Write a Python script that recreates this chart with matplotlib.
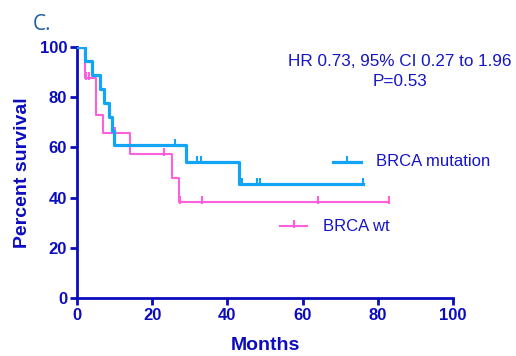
import matplotlib.pyplot as plt
from matplotlib.path import Path

# Kaplan-Meier steps
mut_t = [0, 2.1, 3.9, 6.1, 7.3, 8.5, 9.4, 9.9, 29.0, 43.2, 76.0]
mut_s = [100, 94.4, 88.9, 83.3, 77.8, 72.2, 66.7, 61.1, 54.3, 45.3, 45.3]
mut_cens_t = [1.1, 26.0, 32.0, 32.9, 44.0, 47.9, 48.7, 76.0]
mut_cens_s = [100, 61.1, 54.3, 54.3, 45.3, 45.3, 45.3, 45.3]

wt_t = [0, 2.1, 5.0, 7.0, 14.1, 25.2, 27.1, 83.0]
wt_s = [100, 87.5, 72.9, 65.6, 57.4, 47.8, 38.3, 38.3]
wt_cens_t = [2.4, 3.2, 10.1, 23.1, 27.3, 33.2, 64.0, 83.0]
wt_cens_s = [87.5, 87.5, 65.6, 57.4, 38.3, 38.3, 38.3, 38.3]

xticks = [0, 20, 40, 60, 80, 100]
yticks = [0, 20, 40, 60, 80, 100]

axc = '#0c0cbf'
txc = '#1414c8'
blue = '#12a4f5'
pink = '#ff5fdc'

# censor tick: mostly above the line
cens = Path([(0, -0.3), (0, 1)], [Path.MOVETO, Path.LINETO])

plt.rcParams['font.family'] = ['Liberation Sans', 'DejaVu Sans']

fig = plt.figure(figsize=(5.16, 3.56), dpi=100)
ax = fig.add_axes([0.149, 0.163, 0.729, 0.705])

ax.step(wt_t, wt_s, where='post', color=pink, lw=1.5, zorder=2)
ax.plot(wt_cens_t, wt_cens_s, ls='none', marker=cens, ms=9, mew=1.5, color=pink, zorder=2)
ax.step(mut_t, mut_s, where='post', color=blue, lw=2.3, zorder=3)
ax.plot(mut_cens_t, mut_cens_s, ls='none', marker=cens, ms=9, mew=1.5, color=blue, zorder=3)

ax.set_xlim(0, 100)
ax.set_ylim(0, 100)
ax.set_xticks(xticks)
ax.set_yticks(yticks)
for s in ['top', 'right']:
    ax.spines[s].set_visible(False)
for s in ['left', 'bottom']:
    ax.spines[s].set_color(axc)
    ax.spines[s].set_linewidth(2)
ax.tick_params(direction='out', length=5, width=2, color=axc, labelcolor=axc, labelsize=12, pad=2)
for lab in ax.get_xticklabels() + ax.get_yticklabels():
    lab.set_fontweight('bold')

ax.set_xlabel('Months', fontsize=14, fontweight='bold', color=axc, labelpad=10)
ax.set_ylabel('Percent survival', fontsize=14, fontweight='bold', color=axc, labelpad=6)

# legend drawn by hand
ax.plot([68.2, 75.6], [54.2, 54.2], color=blue, lw=2.3, clip_on=False)
ax.plot([71.9], [54.2], marker=cens, ms=9, mew=1.5, color=blue, clip_on=False)
ax.text(79.5, 54.2, 'BRCA mutation', fontsize=12, color=txc, va='center')
ax.plot([54.0, 61.2], [28.5, 28.5], color=pink, lw=1.5, clip_on=False)
ax.plot([57.7], [28.5], marker=cens, ms=9, mew=1.5, color=pink, clip_on=False)
ax.text(65.3, 28.5, 'BRCA wt', fontsize=12, color=txc, va='center')

fig.text(0.775, 0.827, 'HR 0.73, 95% CI 0.27 to 1.96', fontsize=12.3, color=txc, ha='center', va='center')
fig.text(0.775, 0.771, 'P=0.53', fontsize=12.3, color=txc, ha='center', va='center')

fig.text(0.064, 0.93, 'C.', fontsize=15, color='#1f5f9f', ha='left', va='center', family=['Open Sans', 'DejaVu Sans'])

fig.savefig('out.png', dpi=100)
